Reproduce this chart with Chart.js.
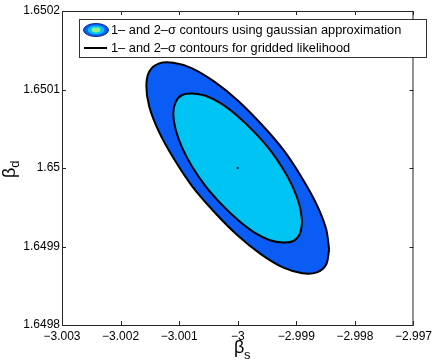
<!DOCTYPE html>
<html lang="en">
<head>
    <meta charset="UTF-8">
    <title>Contours</title>
    <script src="https://cdn.jsdelivr.net/npm/chart.js"></script>
    <style>
        body { margin: 0; background: #fff; }
    </style>
</head>
<body>
    <canvas id="contourChart" width="436" height="363"></canvas>

    <script>
        // axis ticks
        const xTickVals = [-3.003, -3.002, -3.001, -3, -2.999, -2.998, -2.997];
        const xTickLabels = ['\u22123.003', '\u22123.002', '\u22123.001', '\u22123', '\u22122.999', '\u22122.998', '\u22122.997'];
        const yTickVals = [1.6498, 1.6499, 1.65, 1.6501, 1.6502];
        const yTickLabels = ['1.6498', '1.6499', '1.65', '1.6501', '1.6502'];

        // 2-sigma contour
        const outerX = [-2.99844, -2.99849, -2.99865, -2.99890, -2.99922, -2.99960, -3.00000, -3.00040,
                        -3.00078, -3.00110, -3.00135, -3.00151, -3.00156, -3.00151, -3.00135, -3.00110,
                        -3.00078, -3.00040, -3.00000, -2.99960, -2.99922, -2.99890, -2.99865, -2.99849, -2.99844];
        const outerY = [1.649896, 1.649922, 1.649953, 1.649987, 1.650023, 1.650056, 1.650086, 1.650110,
                        1.650127, 1.650134, 1.650133, 1.650123, 1.650104, 1.650078, 1.650047, 1.650013,
                        1.649977, 1.649944, 1.649914, 1.649890, 1.649873, 1.649866, 1.649867, 1.649877, 1.649896];

        // 1-sigma contour
        const innerX = [-2.99890, -2.99894, -2.99905, -2.99922, -2.99945, -2.99972, -3.00000, -3.00028,
                        -3.00055, -3.00078, -3.00095, -3.00106, -3.00110, -3.00106, -3.00095, -3.00078,
                        -3.00055, -3.00028, -3.00000, -2.99972, -2.99945, -2.99922, -2.99905, -2.99894, -2.99890];
        const innerY = [1.649931, 1.649951, 1.649974, 1.649998, 1.650023, 1.650046, 1.650066, 1.650082,
                        1.650092, 1.650095, 1.650093, 1.650084, 1.650069, 1.650049, 1.650026, 1.650002,
                        1.649977, 1.649954, 1.649934, 1.649918, 1.649908, 1.649905, 1.649907, 1.649916, 1.649931];

        // best fit point
        const centerX = [-3];
        const centerY = [1.65];

        const legendLabels = ['1\u2013 and 2\u2013\u03c3 contours using gaussian approximation',
                              '1\u2013 and 2\u2013\u03c3 contours for gridded likelihood'];

        const toPts = (xs, ys) => xs.map((x, i) => ({ x: x, y: ys[i] }));
        const font = '"Liberation Sans", Arial, Helvetica, sans-serif';

        const extras = {
            id: 'extras',
            afterDraw(chart) {
                const ctx = chart.ctx;
                const a = chart.chartArea;
                const xs = chart.scales.x, ys = chart.scales.y;
                ctx.save();

                // box + inward ticks
                ctx.strokeStyle = '#262626';
                ctx.lineWidth = 1;
                ctx.strokeRect(a.left + 0.5, a.top + 0.5, a.right - a.left - 1, a.bottom - a.top);
                ctx.beginPath();
                xTickVals.forEach(v => {
                    const px = Math.round(xs.getPixelForValue(v)) + 0.5;
                    ctx.moveTo(px, a.bottom); ctx.lineTo(px, a.bottom - 4);
                    ctx.moveTo(px, a.top); ctx.lineTo(px, a.top + 4);
                });
                yTickVals.forEach(v => {
                    const py = Math.round(ys.getPixelForValue(v)) + 0.5;
                    ctx.moveTo(a.left, py); ctx.lineTo(a.left + 4, py);
                    ctx.moveTo(a.right, py); ctx.lineTo(a.right - 4, py);
                });
                ctx.stroke();

                // axis titles
                ctx.fillStyle = '#000';
                ctx.textBaseline = 'alphabetic';
                ctx.textAlign = 'left';
                ctx.font = '18px ' + font;
                ctx.fillText('\u03b2', 234, 353);
                ctx.font = '13px ' + font;
                ctx.fillText('s', 244, 359);

                ctx.save();
                ctx.translate(15, 178);
                ctx.rotate(-Math.PI / 2);
                ctx.font = '18px ' + font;
                ctx.fillText('\u03b2', 0, 0);
                const bw = ctx.measureText('\u03b2').width;
                ctx.font = '13px ' + font;
                ctx.fillText('d', bw, 4);
                ctx.restore();

                // legend
                const lx = 79, ly = 19, lw = 347, lh = 38;
                ctx.fillStyle = '#999';
                ctx.fillRect(lx + 1, ly + 1, lw, lh);
                ctx.fillStyle = '#fff';
                ctx.fillRect(lx, ly, lw, lh);
                ctx.strokeStyle = '#333';
                ctx.strokeRect(lx + 0.5, ly + 0.5, lw, lh);

                ctx.beginPath();
                ctx.ellipse(96, 30, 12.5, 6.5, 0, 0, Math.PI * 2);
                ctx.fillStyle = '#0a5cf5';
                ctx.fill();
                ctx.strokeStyle = '#0a2a90';
                ctx.stroke();
                ctx.beginPath();
                ctx.ellipse(96, 30, 8.5, 4.5, 0, 0, Math.PI * 2);
                ctx.fillStyle = '#00c4f4';
                ctx.fill();
                ctx.beginPath();
                ctx.ellipse(96, 30, 4.5, 2.4, 0, 0, Math.PI * 2);
                ctx.fillStyle = '#8ef08a';
                ctx.fill();

                ctx.beginPath();
                ctx.strokeStyle = '#000';
                ctx.lineWidth = 2;
                ctx.moveTo(84, 48); ctx.lineTo(107, 48);
                ctx.stroke();

                ctx.fillStyle = '#000';
                ctx.font = '12.8px ' + font;
                ctx.fillText(legendLabels[0], 111, 34);
                ctx.fillText(legendLabels[1], 111, 52);

                ctx.restore();
            }
        };

        const chart = new Chart(document.getElementById('contourChart'), {
            type: 'scatter',
            data: {
                datasets: [
                    {
                        label: 'best fit',
                        data: toPts(centerX, centerY),
                        pointRadius: 1.2,
                        pointBackgroundColor: '#06324a',
                        pointBorderWidth: 0,
                        order: 0
                    },
                    {
                        label: '1-sigma',
                        data: toPts(innerX, innerY),
                        showLine: true,
                        tension: 0.3,
                        fill: 'shape',
                        backgroundColor: '#00c4f4',
                        borderColor: '#000',
                        borderWidth: 2,
                        pointRadius: 0,
                        order: 1
                    },
                    {
                        label: '2-sigma',
                        data: toPts(outerX, outerY),
                        showLine: true,
                        tension: 0.3,
                        fill: 'shape',
                        backgroundColor: '#0a5cf5',
                        borderColor: '#000',
                        borderWidth: 2,
                        pointRadius: 0,
                        order: 2
                    }
                ]
            },
            options: {
                responsive: false,
                animation: false,
                layout: { padding: { top: 11, right: 21, left: 0, bottom: 0 } },
                plugins: {
                    legend: { display: false },
                    tooltip: { enabled: false }
                },
                scales: {
                    x: {
                        type: 'linear',
                        min: -3.003,
                        max: -2.997,
                        grid: { display: false, drawTicks: false },
                        border: { display: false },
                        afterBuildTicks: s => { s.ticks = xTickVals.map(v => ({ value: v })); },
                        afterFit: s => { s.height = 38; },
                        ticks: {
                            autoSkip: false,
                            maxRotation: 0,
                            padding: 4,
                            color: '#000',
                            font: { family: font, size: 12 },
                            callback: (v, i) => xTickLabels[i]
                        }
                    },
                    y: {
                        type: 'linear',
                        min: 1.6498,
                        max: 1.6502,
                        grid: { display: false, drawTicks: false },
                        border: { display: false },
                        afterBuildTicks: s => { s.ticks = yTickVals.map(v => ({ value: v })); },
                        afterFit: s => { s.width = 62; },
                        ticks: {
                            autoSkip: false,
                            padding: 2,
                            color: '#000',
                            font: { family: font, size: 12 },
                            callback: (v, i) => yTickLabels[i]
                        }
                    }
                }
            },
            plugins: [extras]
        });
    </script>
</body>
</html>
